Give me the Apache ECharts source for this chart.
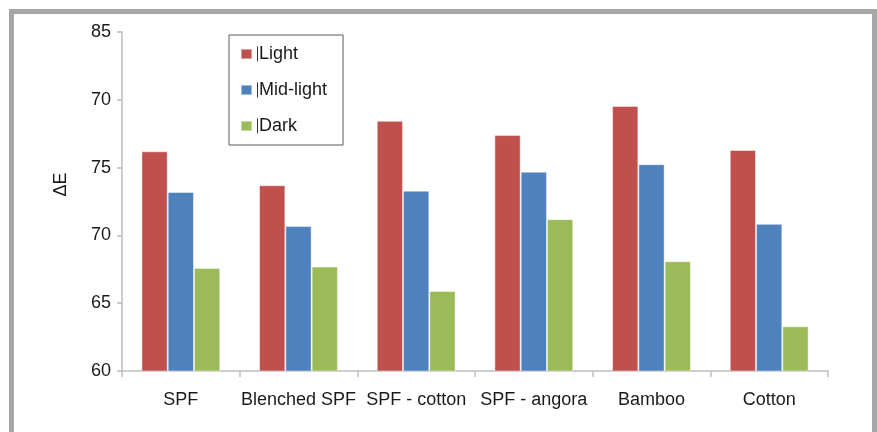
<!DOCTYPE html>
<html>
<head>
<meta charset="utf-8">
<script src="https://cdn.jsdelivr.net/npm/echarts@6/dist/echarts.min.js"></script>
<style>
  html, body { margin: 0; padding: 0; background: #fff; }
  #chart { width: 877px; height: 432px; }
</style>
</head>
<body>
<div id="chart"></div>
<script>
const categories = ['SPF', 'Blenched SPF', 'SPF - cotton', 'SPF - angora', 'Bamboo', 'Cotton'];
const seriesNames = ['Light', 'Mid-light', 'Dark'];
const lightValues = [76.2, 73.7, 78.45, 77.4, 79.55, 76.3];
const midLightValues = [73.2, 70.7, 73.3, 74.7, 75.25, 70.85];
const darkValues = [67.6, 67.7, 65.9, 71.2, 68.1, 63.3];
const yTickLabels = ['60', '65', '70', '75', '70', '85'];
const yAxisTitle = 'ΔE';

const colors = ['#C0504D', '#4F81BD', '#9BBB59'];
const font = '"Liberation Sans", Arial, sans-serif';
const textColor = '#1a1a1a';

const chart = echarts.init(document.getElementById('chart'), null, { renderer: 'canvas' });

const allValues = [lightValues, midLightValues, darkValues];

chart.setOption({
  animation: false,
  color: colors,
  textStyle: { fontFamily: font },
  graphic: [{
    type: 'rect',
    z: -10,
    silent: true,
    shape: { x: 11.5, y: 11.5, width: 863, height: 440 },
    style: { fill: 'none', stroke: '#a7a7a9', lineWidth: 5 }
  }],
  grid: { left: 122, right: 49, top: 32, bottom: 61, containLabel: false },
  legend: {
    orient: 'vertical',
    left: 229,
    top: 35,
    padding: [9, 16, 9, 11],
    borderColor: '#5a5a5a',
    borderWidth: 1,
    itemWidth: 11,
    itemHeight: 10,
    itemGap: 16,
    icon: 'rect',
    data: seriesNames,
    formatter: name => '{b|}{t|' + name + '}',
    textStyle: {
      fontFamily: font,
      fontSize: 18,
      color: textColor,
      lineHeight: 20,
      rich: {
        b: { width: 1, height: 15, backgroundColor: '#333' },
        t: { fontFamily: font, fontSize: 18, color: textColor, padding: [0, 0, 0, 1] }
      }
    }
  },
  xAxis: {
    type: 'category',
    data: categories,
    axisLine: { lineStyle: { color: '#bdbdbd', width: 1.5 } },
    axisTick: { show: true, length: 6, lineStyle: { color: '#bdbdbd', width: 1.5 } },
    axisLabel: { fontSize: 18, color: textColor, margin: 20, fontFamily: font, interval: 0 }
  },
  yAxis: {
    type: 'value',
    min: 60,
    max: 85,
    interval: 5,
    name: yAxisTitle,
    nameLocation: 'middle',
    nameRotate: 90,
    nameGap: 52,
    nameTextStyle: { fontSize: 18, color: textColor, fontFamily: font, padding: [0, 0, 0, 34] },
    axisLine: { show: true, lineStyle: { color: '#bdbdbd', width: 1.5 } },
    axisTick: { show: true, length: 5, lineStyle: { color: '#bdbdbd', width: 1.5 } },
    splitLine: { show: false },
    axisLabel: {
      fontSize: 18,
      color: textColor,
      margin: 11,
      fontFamily: font,
      formatter: v => yTickLabels[Math.round((v - 60) / 5)]
    }
  },
  series: seriesNames.map((name, i) => ({
    name: name,
    type: 'bar',
    data: allValues[i],
    barGap: '0%',
    barCategoryGap: '33%',
    itemStyle: { color: colors[i], borderColor: 'rgba(255,255,255,0.45)', borderWidth: 1 }
  }))
});
</script>
</body>
</html>
